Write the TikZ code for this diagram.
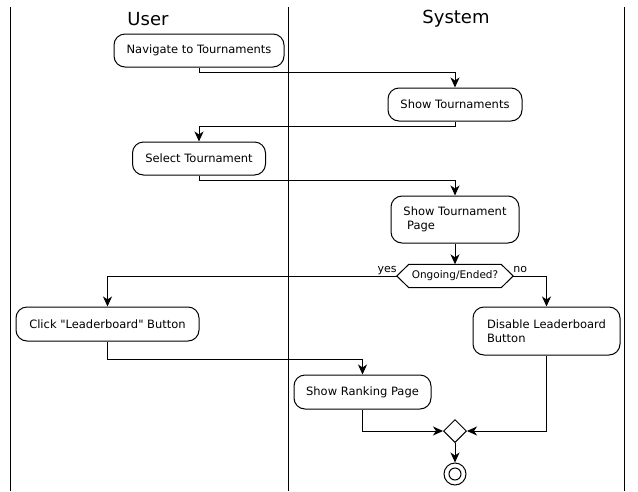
\documentclass[tikz,border=0pt]{standalone}
\usepackage{fontspec}
\setmainfont{DejaVu Sans}[Ligatures=TeXOff]
\usetikzlibrary{arrows.meta,shapes.geometric}
\begin{document}
\begin{tikzpicture}[x=1pt,y=-1pt,
  act/.style={draw,rounded corners=11pt,line width=1pt,font=\fontsize{11.5}{14}\selectfont,inner sep=0pt,align=left},
  flow/.style={line width=1pt,-{Stealth[length=10pt,width=9pt,inset=3pt]}},
  lane/.style={line width=1pt},
  ttl/.style={font=\fontsize{18}{20}\selectfont,inner sep=0pt},
  lbl/.style={font=\fontsize{11}{13}\selectfont,inner sep=0pt}]
\path[use as bounding box] (0,0) rectangle (638,491);
% swimlanes
\draw[lane] (10,7) coordinate (l1t) -- (10,491) coordinate (l1b);
\draw[lane] (288,7) coordinate (l2t) -- (288,491) coordinate (l2b);
\draw[lane] (624,7) coordinate (l3t) -- (624,491) coordinate (l3b);
\node[ttl] (tuser) at (148,19) {User};
\node[ttl] (tsys) at (456,19) {System};
% activities
\node[act,minimum width=170,minimum height=33] (nav) at (199,50.5) {Navigate to Tournaments};
\node[act,minimum width=134,minimum height=33] (st) at (455,104.5) {Show Tournaments};
\node[act,minimum width=133,minimum height=33] (sel) at (199,158.5) {Select Tournament};
\node[act,minimum width=128,minimum height=47] (stp) at (455,219.5) {Show Tournament\\\ Page};
\node[inner sep=0pt,minimum width=116,minimum height=23,font=\fontsize{10.5}{12}\selectfont] (hex) at (455,276) {Ongoing/Ended?};
\draw[line width=1pt] (hex.west) -- ([xshift=12pt]hex.north west) -- ([xshift=-12pt]hex.north east) -- (hex.east) -- ([xshift=-12pt]hex.south east) -- ([xshift=12pt]hex.south west) -- cycle;
\node[act,minimum width=183,minimum height=34] (click) at (107.5,324) {Click "Leaderboard" Button};
\node[act,minimum width=147,minimum height=48] (dis) at (546.5,331) {Disable Leaderboard\\Button};
\node[act,minimum width=137,minimum height=34] (rank) at (362.5,392) {Show Ranking Page};
\node[diamond,draw,line width=1pt,minimum width=23pt,minimum height=23pt,inner sep=0pt] (merge) at (455,431) {};
\node[circle,draw,line width=1pt,minimum size=22pt,inner sep=0pt] (end) at (455,474) {};
\node[circle,draw,line width=1pt,minimum size=12pt,inner sep=0pt] (endin) at (end.center) {};
% connectors
\draw[flow] (nav.south) -- ++(0,5) -| (st.north);
\draw[flow] (st.south) -- ++(0,5) -| (sel.north);
\draw[flow] (sel.south) -- ++(0,5) -| (stp.north);
\draw[flow] (stp.south) -- (hex.north);
\draw[flow] (hex.west) -| (click.north);
\draw[flow] (hex.east) -| (dis.north);
\node[lbl,anchor=base east] (yes) at ([yshift=4pt]hex.west) {yes};
\node[lbl,anchor=base west] (no) at ([yshift=4pt]hex.east) {no};
\draw[flow] (click.south) -- ++(0,18) -| (rank.north);
\draw[flow] (rank.south) |- (merge.west);
\draw[flow] (dis.south) |- (merge.east);
\draw[flow] (merge.south) -- (end.north);
\end{tikzpicture}
\end{document}
